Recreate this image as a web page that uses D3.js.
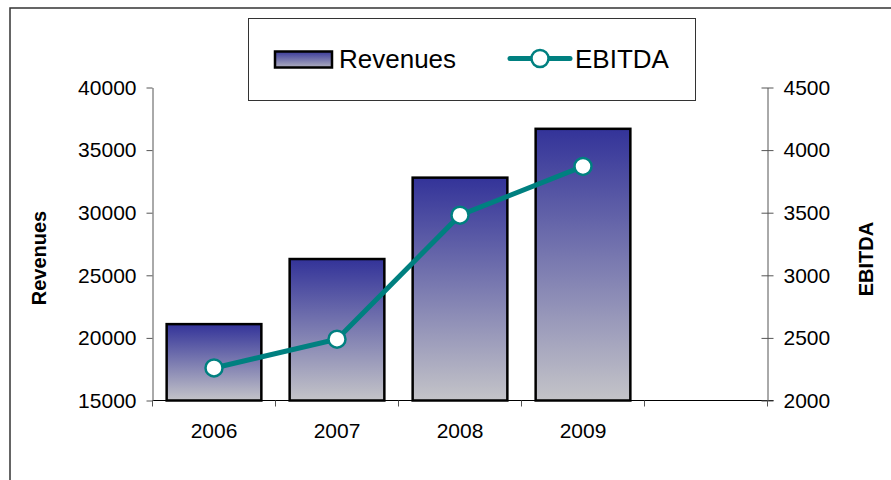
<!DOCTYPE html>
<html>
<head>
<meta charset="utf-8">
<script src="https://cdn.jsdelivr.net/npm/d3@7"></script>
<style>
  html, body { margin: 0; padding: 0; background: #fff; }
  svg { display: block; font-family: "Liberation Sans", Arial, sans-serif; }
</style>
</head>
<body>
<svg id="chart" width="891" height="480"></svg>
<script>
// chart data
const years = ["2006", "2007", "2008", "2009", ""]
const revenues = [21100, 26300, 32800, 36700]
const ebitda = [2260, 2490, 3480, 3870]
const revenueTicks = [15000, 20000, 25000, 30000, 35000, 40000]
const ebitdaTicks = [2000, 2500, 3000, 3500, 4000, 4500]

const svg = d3.select("#chart")

// plot area
const plotLeft = 152.5, plotRight = 767.5, plotTop = 87.5, plotBottom = 400.5

const x = d3.scaleBand()
  .domain(years)
  .range([plotLeft, plotRight])
  .paddingInner(0.23)
  .paddingOuter(0.115)

const band = d3.scaleBand().domain(years).range([plotLeft, plotRight])

const yLeft = d3.scaleLinear().domain([15000, 40000]).range([plotBottom, plotTop])
const yRight = d3.scaleLinear().domain([2000, 4500]).range([plotBottom, plotTop])

// gradient for bars
const defs = svg.append("defs")
const grad = defs.append("linearGradient")
  .attr("id", "barGrad")
  .attr("x1", 0).attr("y1", 0).attr("x2", 0).attr("y2", 1)
grad.append("stop").attr("offset", "0%").attr("stop-color", "#333399")
grad.append("stop").attr("offset", "100%").attr("stop-color", "#c4c4c8")

// legend swatch gradient
const lgrad = defs.append("linearGradient")
  .attr("id", "legGrad")
  .attr("x1", 0).attr("y1", 0).attr("x2", 0).attr("y2", 1)
lgrad.append("stop").attr("offset", "0%").attr("stop-color", "#3a3a9a")
lgrad.append("stop").attr("offset", "100%").attr("stop-color", "#b0b0c0")

// outer frame
svg.append("rect")
  .attr("x", 10).attr("y", 8)
  .attr("width", 900).attr("height", 500)
  .attr("fill", "none")
  .attr("stroke", "#333")
  .attr("stroke-width", 1.5)

// bars
svg.append("g")
  .selectAll("rect")
  .data(revenues)
  .join("rect")
  .attr("x", (d, i) => x(years[i]))
  .attr("y", d => yLeft(d))
  .attr("width", x.bandwidth())
  .attr("height", d => plotBottom - yLeft(d))
  .attr("fill", "url(#barGrad)")
  .attr("stroke", "#000")
  .attr("stroke-width", 2.5)

// x axis line
svg.append("line")
  .attr("x1", plotLeft).attr("x2", plotRight + 6)
  .attr("y1", plotBottom).attr("y2", plotBottom)
  .attr("stroke", "#000").attr("stroke-width", 1.2)

// category boundary ticks
const boundaries = years.map(y => band(y)).concat([plotRight])
svg.append("g")
  .selectAll("line")
  .data(boundaries)
  .join("line")
  .attr("x1", d => d).attr("x2", d => d)
  .attr("y1", plotBottom).attr("y2", plotBottom + 6)
  .attr("stroke", "#555").attr("stroke-width", 1)

// category labels
svg.append("g")
  .selectAll("text")
  .data(years)
  .join("text")
  .attr("x", d => band(d) + band.bandwidth() / 2)
  .attr("y", 438)
  .attr("text-anchor", "middle")
  .attr("font-size", 21)
  .attr("fill", "#000")
  .text(d => d)

// left axis
const leftAxis = d3.axisLeft(yLeft)
  .tickValues(revenueTicks)
  .tickFormat(d3.format("d"))
  .tickSize(6)
  .tickSizeOuter(0)
svg.append("g")
  .attr("transform", `translate(${plotLeft},0)`)
  .call(leftAxis)
  .call(g => g.select(".domain").attr("stroke", "#555"))
  .call(g => g.selectAll(".tick line").attr("stroke", "#555"))
  .call(g => g.selectAll(".tick text")
    .attr("x", -16)
    .attr("font-size", 21)
    .attr("font-family", "Liberation Sans, Arial, sans-serif")
    .attr("fill", "#000"))

// right axis (ticks cross the line)
const rightAxis = d3.axisRight(yRight)
  .tickValues(ebitdaTicks)
  .tickFormat(d3.format("d"))
  .tickSize(6)
  .tickSizeOuter(0)
svg.append("g")
  .attr("transform", `translate(${plotRight},0)`)
  .call(rightAxis)
  .call(g => g.select(".domain").attr("stroke", "#555"))
  .call(g => g.selectAll(".tick line").attr("x1", -6).attr("stroke", "#555"))
  .call(g => g.selectAll(".tick text")
    .attr("x", 16)
    .attr("font-size", 21)
    .attr("font-family", "Liberation Sans, Arial, sans-serif")
    .attr("fill", "#000"))

// axis titles
svg.append("text")
  .attr("transform", "translate(46,258) rotate(-90)")
  .attr("text-anchor", "middle")
  .attr("font-size", 20)
  .attr("font-weight", "bold")
  .text("Revenues")

svg.append("text")
  .attr("transform", "translate(873,259) rotate(-90)")
  .attr("text-anchor", "middle")
  .attr("font-size", 20)
  .attr("font-weight", "bold")
  .text("EBITDA")

// EBITDA line
const teal = "#008080"
const line = d3.line()
  .x((d, i) => band(years[i]) + band.bandwidth() / 2)
  .y(d => yRight(d))

svg.append("path")
  .datum(ebitda)
  .attr("d", line)
  .attr("fill", "none")
  .attr("stroke", teal)
  .attr("stroke-width", 5)

svg.append("g")
  .selectAll("circle")
  .data(ebitda)
  .join("circle")
  .attr("cx", (d, i) => band(years[i]) + band.bandwidth() / 2)
  .attr("cy", d => yRight(d))
  .attr("r", 8.5)
  .attr("fill", "#fff")
  .attr("stroke", teal)
  .attr("stroke-width", 2.5)

// legend
const legend = svg.append("g")
legend.append("rect")
  .attr("x", 248.5).attr("y", 18.5)
  .attr("width", 447).attr("height", 82)
  .attr("fill", "#fff")
  .attr("stroke", "#333")
  .attr("stroke-width", 1)

legend.append("rect")
  .attr("x", 275).attr("y", 51.5)
  .attr("width", 57).attr("height", 16)
  .attr("fill", "url(#legGrad)")
  .attr("stroke", "#000")
  .attr("stroke-width", 2.5)

legend.append("text")
  .attr("x", 339).attr("y", 68)
  .attr("font-size", 26)
  .text("Revenues")

legend.append("line")
  .attr("x1", 510).attr("x2", 570)
  .attr("y1", 58.5).attr("y2", 58.5)
  .attr("stroke", teal)
  .attr("stroke-width", 5)
  .attr("stroke-linecap", "round")

legend.append("circle")
  .attr("cx", 540).attr("cy", 58.5).attr("r", 8.5)
  .attr("fill", "#fff")
  .attr("stroke", teal)
  .attr("stroke-width", 2.5)

legend.append("text")
  .attr("x", 575).attr("y", 68)
  .attr("font-size", 26)
  .text("EBITDA")
</script>
</body>
</html>
